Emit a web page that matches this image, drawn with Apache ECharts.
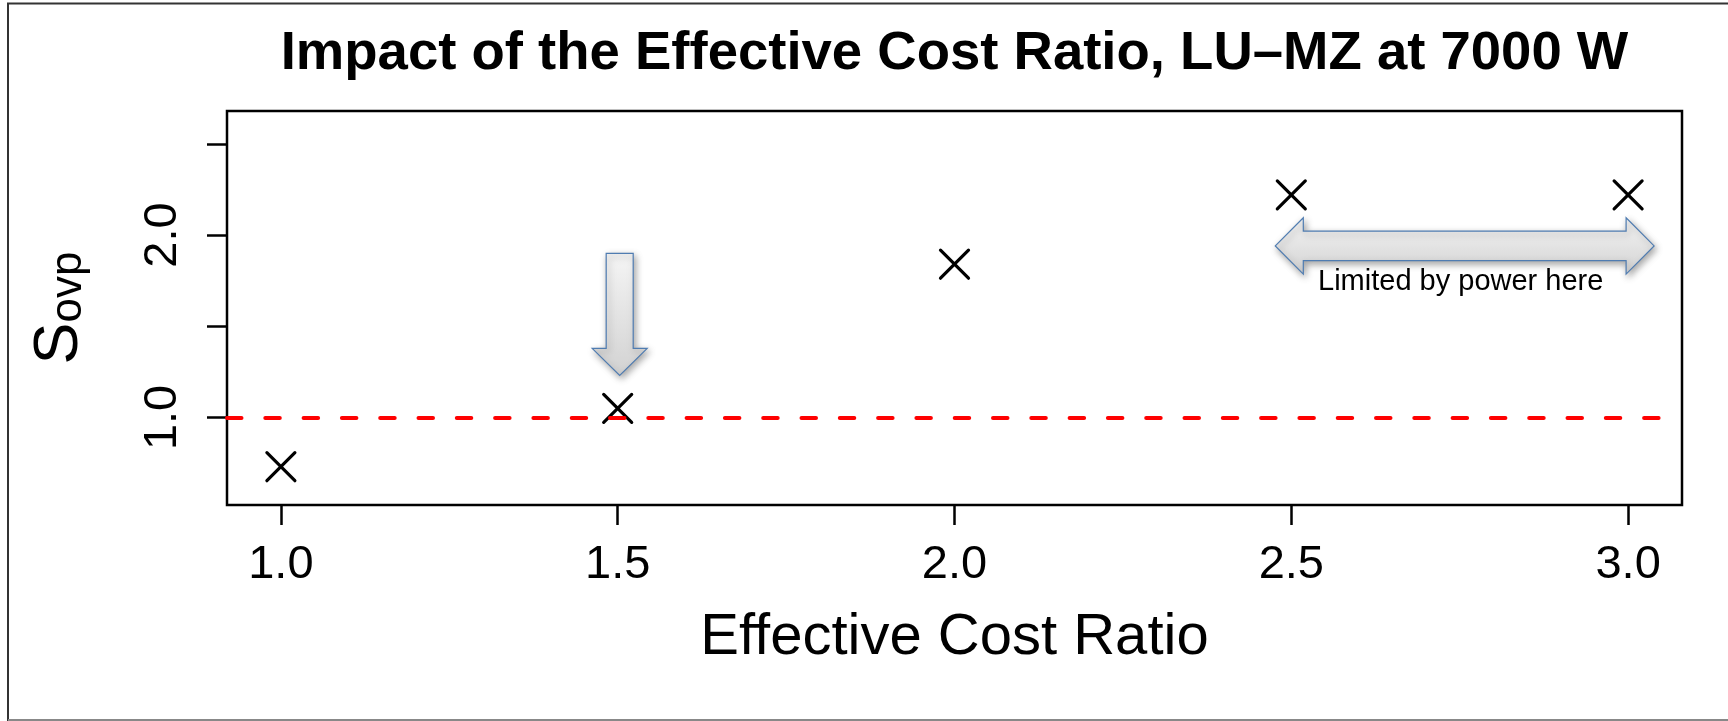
<!DOCTYPE html>
<html>
<head>
<meta charset="utf-8">
<script src="https://cdn.jsdelivr.net/npm/echarts@6/dist/echarts.min.js"></script>
<style>
  html, body { margin: 0; padding: 0; background: #ffffff; }
  #chart { width: 1728px; height: 721px; }
</style>
</head>
<body>
<div id="chart"></div>
<script>
// Effective cost ratio vs. overprovisioning speedup, LU-MZ at 7000 W
const costRatios = [1.0, 1.5, 2.0, 2.5, 3.0];
const speedups   = [0.73, 1.05, 1.84, 2.22, 2.22];
const xTickValues = [1.0, 1.5, 2.0, 2.5, 3.0];
const yTickValues = [1.0, 1.5, 2.0, 2.5];
const yLabelValues = [1.0, 2.0];
const baseline = 1.0;
const titleText = 'Impact of the Effective Cost Ratio, LU\u2013MZ at 7000 W';
const xName = 'Effective Cost Ratio';
const noteText = 'Limited by power here';

const FONT = '"Liberation Sans", Arial, Helvetica, sans-serif';
const GRID = { left: 227, top: 111, width: 1455, height: 394 };

const chart = echarts.init(document.getElementById('chart'), null, { renderer: 'canvas' });

const option = {
  backgroundColor: '#ffffff',
  animation: false,
  grid: {
    left: GRID.left, top: GRID.top, width: GRID.width, height: GRID.height,
    show: true, borderColor: '#000', borderWidth: 2.5, backgroundColor: 'transparent'
  },
  xAxis: {
    type: 'value', min: 0.92, max: 3.08,
    name: xName, nameLocation: 'middle', nameGap: 104,
    nameTextStyle: { fontFamily: FONT, fontSize: 58, color: '#000' },
    axisLine: { show: false },
    splitLine: { show: false },
    axisTick: { show: true, length: 20, customValues: xTickValues, lineStyle: { color: '#000', width: 2.5 } },
    axisLabel: {
      customValues: xTickValues, margin: 37,
      fontFamily: FONT, fontSize: 47, color: '#000',
      formatter: v => Number(v).toFixed(1)
    }
  },
  yAxis: {
    type: 'value', min: 0.52, max: 2.68,
    name: '{s|S}{sub|ovp}', nameLocation: 'middle', nameGap: 136, nameRotate: 90,
    nameTextStyle: {
      fontFamily: FONT, color: '#000',
      rich: {
        s: { fontFamily: FONT, fontSize: 63, lineHeight: 63, verticalAlign: 'top', color: '#000' },
        sub: { fontFamily: FONT, fontSize: 44, lineHeight: 44, verticalAlign: 'bottom', color: '#000' }
      }
    },
    axisLine: { show: false },
    splitLine: { show: false },
    axisTick: { show: true, length: 20, customValues: yTickValues, lineStyle: { color: '#000', width: 2.5 } },
    axisLabel: {
      customValues: yLabelValues, margin: 40, rotate: 90,
      fontFamily: FONT, fontSize: 47, color: '#000',
      formatter: v => Number(v).toFixed(1)
    }
  },
  series: [{
    type: 'scatter',
    data: costRatios.map((x, i) => [x, speedups[i]]),
    symbol: 'path://M0,0L10,10M10,0L0,10',
    symbolSize: 28,
    itemStyle: { color: 'none', opacity: 1, borderColor: '#000', borderWidth: 3.2, borderCap: 'round' },
    emphasis: { disabled: true },
    markLine: {
      silent: true,
      symbol: 'none',
      label: { show: false },
      lineStyle: { color: '#ff0000', width: 4, type: [14.5, 23.8], cap: 'round', opacity: 1 },
      data: [{ yAxis: baseline }]
    },
    z: 3
  }],
  graphic: []
};

chart.setOption(option);

// annotation arrows placed relative to the plotted points
function buildAnnotations() {
  const px = (x, y) => chart.convertToPixel({ gridIndex: 0 }, [x, y]);
  const gfx = [];

  // outer frame
  gfx.push({
    type: 'polyline', silent: true,
    shape: { points: [[1728, 3.5], [8, 3.5], [8, 720], [1728, 720]] },
    style: { stroke: '#333', lineWidth: 2, fill: 'none' }
  });
  gfx.push({
    type: 'line', silent: true,
    shape: { x1: 8, y1: 720, x2: 1728, y2: 720 },
    style: { stroke: '#888', lineWidth: 2 }
  });

  // title centred over the plot region
  gfx.push({
    type: 'text', silent: true,
    x: GRID.left + GRID.width / 2, y: 53.5,
    style: {
      text: titleText, fill: '#000',
      font: 'bold 54.5px ' + FONT,
      align: 'center', verticalAlign: 'middle'
    }
  });

  const fillGrad = {
    type: 'linear', x: 0, y: 0, x2: 0, y2: 1,
    colorStops: [{ offset: 0, color: '#f5f5f5' }, { offset: 1, color: '#d2d2d2' }]
  };
  const arrowStyle = {
    fill: fillGrad, stroke: '#4f7cb1', lineWidth: 1.2,
    shadowBlur: 7, shadowColor: 'rgba(0,0,0,0.35)', shadowOffsetX: 2, shadowOffsetY: 3
  };

  // down arrow above the 1.5 point
  const p = px(costRatios[1], speedups[1]);
  const cx = p[0] + 2, tip = p[1] - 33;
  gfx.push({
    type: 'polygon', silent: true,
    shape: { points: [
      [cx - 13.5, tip - 122], [cx + 13.5, tip - 122], [cx + 13.5, tip - 27],
      [cx + 27.5, tip - 27], [cx, tip], [cx - 27.5, tip - 27], [cx - 13.5, tip - 27]
    ] },
    style: arrowStyle
  });

  // double-headed arrow spanning the power-limited points
  const a = px(costRatios[3], speedups[3]);
  const b = px(costRatios[4], speedups[4]);
  const yc = a[1] + 51;
  const xl = a[0] - 16, xr = b[0] + 26;
  const hl = 28, hh = 28.2, sh = 14.8;
  gfx.push({
    type: 'polygon', silent: true,
    shape: { points: [
      [xl, yc], [xl + hl, yc - hh], [xl + hl, yc - sh], [xr - hl, yc - sh], [xr - hl, yc - hh],
      [xr, yc], [xr - hl, yc + hh], [xr - hl, yc + sh], [xl + hl, yc + sh], [xl + hl, yc + hh]
    ] },
    style: arrowStyle
  });
  gfx.push({
    type: 'text', silent: true,
    x: (xl + xr) / 2 - 4, y: yc + 36,
    style: {
      text: noteText, fill: '#000', font: '29px ' + FONT,
      align: 'center', verticalAlign: 'middle'
    }
  });

  chart.setOption({ graphic: gfx });
}
buildAnnotations();
</script>
</body>
</html>
